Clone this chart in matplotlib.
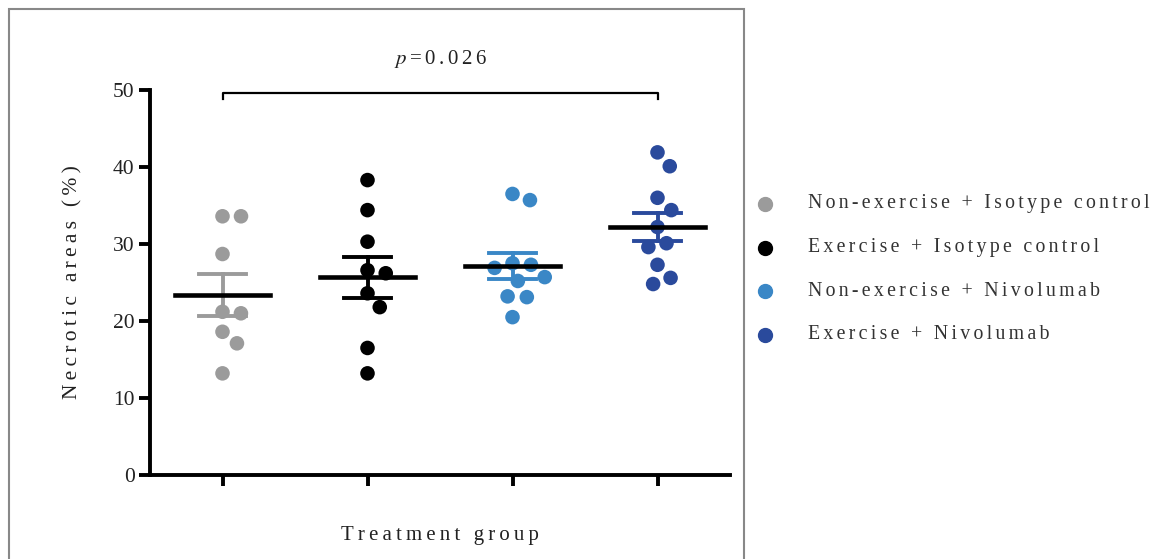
import numpy as np
import matplotlib.pyplot as plt
from matplotlib.lines import Line2D
from matplotlib.patches import Rectangle

plt.rcParams['font.family'] = ['Liberation Serif', 'DejaVu Serif']
plt.rcParams['mathtext.fontset'] = 'stix'

groups = ["Non-exercise + Isotype control", "Exercise + Isotype control",
          "Non-exercise + Nivolumab", "Exercise + Nivolumab"]
colors = ["#9b9b9b", "#000000", "#3a87c6", "#2a4a9c"]

non_ex_iso = [33.6, 33.6, 28.7, 21.0, 21.2, 18.6, 17.1, 13.2]
ex_iso = [38.3, 34.4, 30.3, 26.6, 26.2, 23.6, 21.8, 16.5, 13.2]
non_ex_nivo = [35.7, 36.5, 27.3, 27.5, 26.9, 25.7, 25.2, 23.2, 23.1, 20.5]
ex_nivo = [41.9, 40.1, 36.0, 34.4, 32.2, 30.1, 29.6, 27.3, 25.6, 24.8]
values = [non_ex_iso, ex_iso, non_ex_nivo, ex_nivo]

yticks = [0, 10, 20, 30, 40, 50]
p_value = "0.026"


def spaced(s, gap="\u2009"):
    # fake letter spacing
    return gap.join(s)


def swarm(vals, d, px_x, px_y):
    # simple beeswarm: offsets in data units so that markers don't overlap
    placed = []
    offs = np.zeros(len(vals))
    order = np.argsort(vals)[::-1]
    for i in order:
        y = vals[i] * px_y
        cands = [0.0]
        for xp, yp in placed:
            dy = abs(y - yp)
            if dy < d:
                dx = np.sqrt(d ** 2 - dy ** 2)
                cands += [xp + dx, xp - dx]
        ok = []
        for c in cands:
            if all((c - xp) ** 2 + (y - yp) ** 2 >= d ** 2 - 1e-6 for xp, yp in placed):
                ok.append(c)
        best = min(ok, key=lambda c: (round(abs(c), 6), -c))
        placed.append((best, y))
        offs[i] = best / px_x
    return offs


fig = plt.figure(figsize=(11.61, 5.59), dpi=100)
W, H = 1161, 559
ax = fig.add_axes([150 / W, 1 - 475 / H, 580 / W, 385 / H])
ax.set_xlim(-0.5, 3.5)
ax.set_ylim(0, 50)

px_x = 580 / 4
px_y = 385 / 50

for i, (vals, c) in enumerate(zip(values, colors)):
    vals = np.array(vals)
    offs = swarm(vals, 18.5, px_x, px_y)
    ax.scatter(i + offs, vals, s=110, color=c, edgecolors='none', zorder=3, clip_on=False)
    m = vals.mean()
    sem = vals.std(ddof=1) / np.sqrt(len(vals))
    ax.plot([i, i], [m - sem, m + sem], color=c, lw=2.8, zorder=4)
    ax.plot([i - 0.16, i + 0.16], [m + sem, m + sem], color=c, lw=2.8, zorder=4)
    ax.plot([i - 0.16, i + 0.16], [m - sem, m - sem], color=c, lw=2.8, zorder=4)
    ax.plot([i - 0.33, i + 0.33], [m, m], color='black', lw=3.3, zorder=5)

# significance bracket
ax.plot([0, 0, 3, 3], [48.8, 49.6, 49.6, 48.8], color='black', lw=1.6, clip_on=False)
ax.text(1.5, 54.0, "$p$\u2006=\u2006" + spaced(p_value, "\u2006"), ha='center', va='center',
        fontsize=15, color='#222222')

for s in ['top', 'right']:
    ax.spines[s].set_visible(False)
for s in ['left', 'bottom']:
    ax.spines[s].set_linewidth(2.8)
ax.set_yticks(yticks)
ax.set_xticks(range(4))
ax.set_xticklabels([])
ax.tick_params(width=2.8, length=8, labelsize=15.5, colors='black', labelcolor='#222222', pad=3)
ax.set_xlabel(spaced("Treatment group"), fontsize=15, color='#222222', labelpad=26)
ax.set_ylabel(spaced("Necrotic areas (%)"), fontsize=15.5, color='#222222', labelpad=22)

# legend
for k, (g, c) in enumerate(zip(groups, colors)):
    y = 1 - (204 + 43.5 * k) / H
    fig.add_artist(Line2D([765 / W], [y], marker='o', markersize=10, color=c,
                          linestyle='none', transform=fig.transFigure))
    fig.text(808 / W, y, spaced(g, "\u2006"), fontsize=14.3, color='#333333', va='center', ha='left')

# outer frame
fig.add_artist(Rectangle((9 / W, -0.05), (744 - 9) / W, 1.05 - 9 / H, transform=fig.transFigure,
                         fill=False, edgecolor='#888888', lw=1.5))

fig.savefig("out.png", dpi=100)
